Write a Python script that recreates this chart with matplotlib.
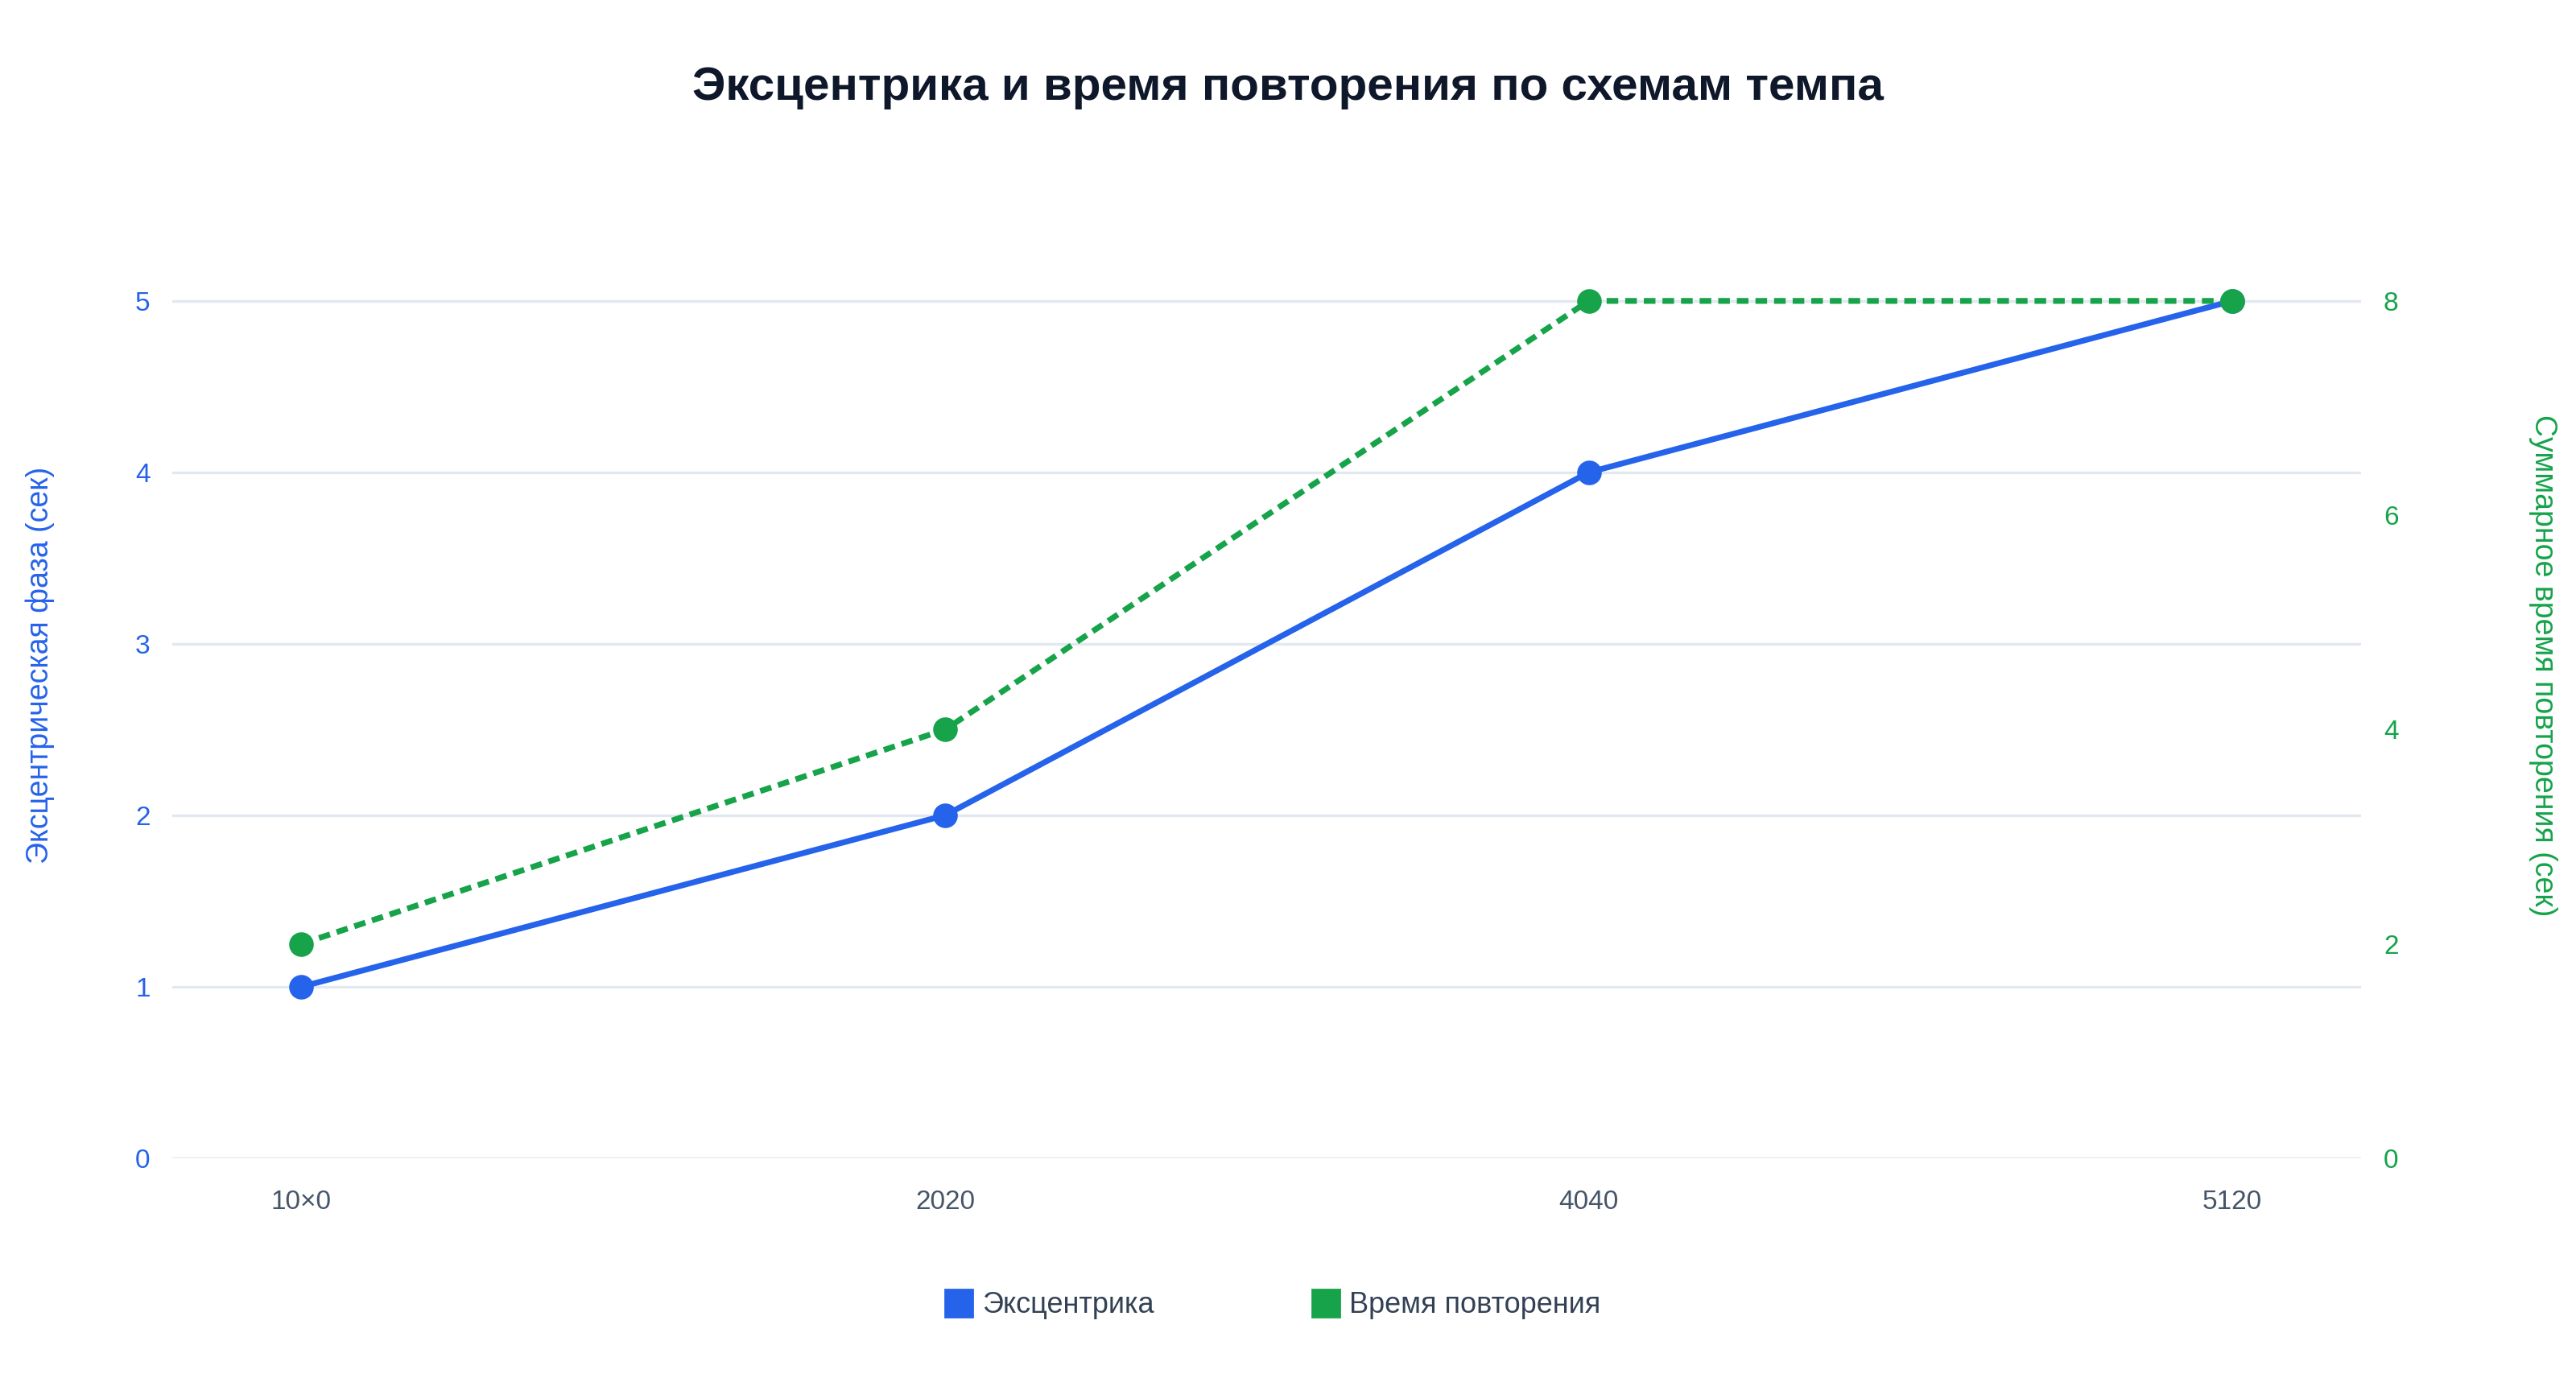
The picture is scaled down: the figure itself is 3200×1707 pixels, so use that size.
import matplotlib
matplotlib.use("Agg")
import matplotlib.pyplot as plt
from matplotlib.lines import Line2D

plt.rcParams['font.family'] = ['Liberation Sans', 'DejaVu Sans']

# data
schemes = ["10×0", "2020", "4040", "5120"]
eccentric = [1, 2, 4, 5]
rep_time = [2, 4, 8, 8]

blue = "#2563eb"
green = "#16a34a"
grid_c = "#e2e8f0"
text_c = "#334155"

fig = plt.figure(figsize=(16, 8.535), dpi=200)
ax = fig.add_axes([0.067, 0.157, 0.8496, 0.7176])
ax2 = ax.twinx()

x = list(range(len(schemes)))

ax.plot(x, eccentric, color=blue, lw=2.6, marker="o", markersize=10,
        clip_on=False, zorder=3)
ax2.plot(x, rep_time, color=green, lw=2.6, ls=(0, (2.0, 1.2)), marker="o",
         markersize=10, clip_on=False, zorder=3)

# some headroom above the top tick, like the original
ax.set_xlim(-0.2, 3.2)
ax.set_ylim(0, 5.75)
ax2.set_ylim(0, 9.2)
ax.set_xticks(x)
ax.set_xticklabels(schemes)
ax.set_yticks([0, 1, 2, 3, 4, 5])
ax2.set_yticks([0, 2, 4, 6, 8])

ax.grid(axis="y", color=grid_c, lw=1.2)
ax.set_axisbelow(True)
for a in (ax, ax2):
    for s in a.spines.values():
        s.set_visible(False)
    a.tick_params(length=0)

ax.tick_params(axis="x", colors="#475569", labelsize=12, pad=14)
ax.tick_params(axis="y", colors=blue, labelsize=12, pad=10)
ax2.tick_params(axis="y", colors=green, labelsize=12, pad=10)

ax.set_ylabel("Эксцентрическая фаза (сек)", color=blue, fontsize=13.5, labelpad=36)
ax2.set_ylabel("Суммарное время повторения (сек)", color=green, fontsize=13.5,
               rotation=-90, labelpad=71)

fig.suptitle("Эксцентрика и время повторения по схемам темпа", x=0.5, y=0.952,
             fontsize=21, fontweight="bold", color="#0f172a")

handles = [
    Line2D([], [], ls="none", marker="s", markersize=12.5, color=blue),
    Line2D([], [], ls="none", marker="s", markersize=12.5, color=green),
]
fig.legend(handles, ["Эксцентрика", "Время повторения"], loc="center",
           bbox_to_anchor=(0.494, 0.05), ncol=2, frameon=False, fontsize=13,
           labelcolor=text_c, handletextpad=0.3, columnspacing=5.4,
           handlelength=1.0)

fig.savefig("out.png", dpi=200, facecolor="white")
